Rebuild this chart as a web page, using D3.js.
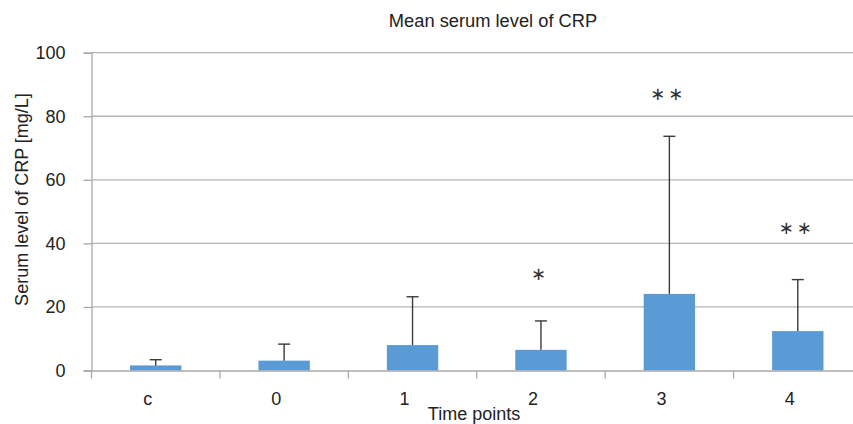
<!DOCTYPE html>
<html>
<head>
<meta charset="utf-8">
<script src="https://cdn.jsdelivr.net/npm/d3@7"></script>
<style>
  body { margin: 0; background: #fff; }
  svg { display: block; font-family: "Liberation Sans", Arial, sans-serif; }
</style>
</head>
<body>
<div id="chart"></div>
<script>
// data
const categories = ['c', '0', '1', '2', '3', '4'];
const meanValues = [1.6, 3.1, 8.0, 6.5, 24.1, 12.4];
const errorTops = [3.4, 8.3, 23.2, 15.6, 73.7, 28.6];
const sigMarks = ['', '', '', '*', '**', '**'];
const sigLevels = [0, 0, 0, 30.6, 87.2, 45.0];
const yTicks = [0, 20, 40, 60, 80, 100];

const width = 853, height = 424;
const plotLeft = 91.5, plotRight = 862, plotTop = 52.7, plotBottom = 370.5;

const svg = d3.select('#chart').append('svg')
    .attr('width', width)
    .attr('height', height);

const x = d3.scaleBand().domain(categories).range([plotLeft, plotRight]).padding(0);
const y = d3.scaleLinear().domain([0, 100]).range([plotBottom, plotTop]);
const barW = x.bandwidth() * 0.4;

// gridlines
svg.append('g')
    .selectAll('line')
    .data(yTicks.filter(d => d > 0))
    .join('line')
    .attr('x1', plotLeft).attr('x2', plotRight)
    .attr('y1', d => y(d)).attr('y2', d => y(d))
    .attr('stroke', '#b4b4b4')
    .attr('stroke-width', 1.3);

// y axis
const yAxis = svg.append('g')
    .attr('transform', `translate(${plotLeft},0)`)
    .call(d3.axisLeft(y).tickValues(yTicks).tickSize(8).tickPadding(18));
yAxis.select('.domain').attr('stroke', '#a8a8a8').attr('stroke-width', 1.3);
yAxis.selectAll('.tick line').attr('stroke', '#a8a8a8').attr('stroke-width', 1.3);
yAxis.selectAll('.tick text')
    .attr('font-size', 18)
    .attr('fill', '#222')
    .style('font-family', '"Liberation Sans", Arial, sans-serif');

// bars
svg.append('g')
    .selectAll('rect')
    .data(categories)
    .join('rect')
    .attr('x', (d) => x(d) + (x.bandwidth() - barW) / 2)
    .attr('y', (d, i) => y(meanValues[i]))
    .attr('width', barW)
    .attr('height', (d, i) => y(0) - y(meanValues[i]))
    .attr('fill', '#5b9bd5');

// x axis
const xAxis = svg.append('g')
    .attr('transform', `translate(0,${plotBottom})`)
    .call(d3.axisBottom(x).tickSize(0).tickPadding(22));
xAxis.select('.domain').attr('stroke', '#a8a8a8').attr('stroke-width', 1.3);
xAxis.selectAll('.tick text')
    .attr('font-size', 18)
    .attr('fill', '#222')
    .attr('dx', -8)
    .style('font-family', '"Liberation Sans", Arial, sans-serif');

// category separator ticks
svg.append('g')
    .selectAll('line')
    .data(categories)
    .join('line')
    .attr('x1', d => x(d)).attr('x2', d => x(d))
    .attr('y1', plotBottom).attr('y2', plotBottom + 8)
    .attr('stroke', '#a8a8a8')
    .attr('stroke-width', 1.3);

// error bars
const err = svg.append('g').attr('stroke', '#3a3a3a').attr('stroke-width', 1.4);
categories.forEach((c, i) => {
    const cx = x(c) + x.bandwidth() / 2;
    err.append('line')
        .attr('x1', cx).attr('x2', cx)
        .attr('y1', y(meanValues[i])).attr('y2', y(errorTops[i]));
    err.append('line')
        .attr('x1', cx - 6).attr('x2', cx + 6)
        .attr('y1', y(errorTops[i])).attr('y2', y(errorTops[i]));
});

// significance marks
svg.append('g')
    .selectAll('text')
    .data(categories.filter((c, i) => sigMarks[i]))
    .join('text')
    .attr('x', c => x(c) + x.bandwidth() / 2 - 1)
    .attr('y', c => y(sigLevels[categories.indexOf(c)]))
    .attr('text-anchor', 'middle')
    .attr('dominant-baseline', 'central')
    .attr('font-size', 18)
    .attr('letter-spacing', 3)
    .attr('fill', '#333')
    .style('font-family', '"DejaVu Sans", sans-serif')
    .text(c => sigMarks[categories.indexOf(c)].replace(/\*/g, '\u2217'));

// titles
svg.append('text')
    .attr('x', 493).attr('y', 27)
    .attr('text-anchor', 'middle')
    .attr('font-size', 18.3)
    .attr('fill', '#222')
    .text('Mean serum level of CRP');

svg.append('text')
    .attr('x', 474).attr('y', 419.5)
    .attr('text-anchor', 'middle')
    .attr('font-size', 18)
    .attr('fill', '#222')
    .text('Time points');

svg.append('text')
    .attr('transform', 'translate(28,199.5) rotate(-90)')
    .attr('text-anchor', 'middle')
    .attr('font-size', 18)
    .attr('fill', '#222')
    .text('Serum level of CRP [mg/L]');
</script>
</body>
</html>
